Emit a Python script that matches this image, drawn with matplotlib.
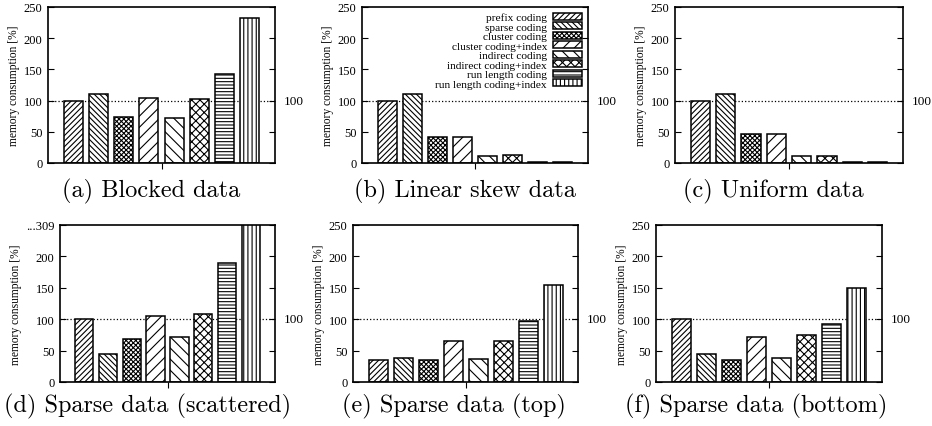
import matplotlib
matplotlib.use("Agg")
import matplotlib.pyplot as plt
import matplotlib.transforms as mtransforms

plt.rcParams['font.family'] = ['Liberation Serif', 'DejaVu Serif']
plt.rcParams['hatch.linewidth'] = 0.8

# coding schemes (legend order)
schemes = ['prefix coding', 'sparse coding', 'cluster coding', 'cluster coding+index',
           'indirect coding', 'indirect coding+index', 'run length coding',
           'run length coding+index']
hatches = ['//////', '\\\\\\\\\\\\', 'xxxxxxx', '///', '\\\\\\', 'xxxx', '-----', '||||']

# memory consumption [%] per data set
blocked = [100, 110, 73, 104, 72, 102, 143, 232]
linear_skew = [100, 110, 42, 42, 12, 13, 1, 1]
uniform = [100, 110, 47, 47, 12, 12, 1, 1]
scattered = [100, 44, 68, 105, 72, 108, 189, 309]
sparse_top = [35, 38, 35, 66, 36, 66, 97, 155]
sparse_bottom = [100, 44, 35, 71, 38, 75, 92, 150]

captions = ['(a) Blocked data', '(b) Linear skew data', '(c) Uniform data',
            '(d) Sparse data (scattered)', '(e) Sparse data (top)',
            '(f) Sparse data (bottom)']
yticks = [0, 50, 100, 150, 200, 250]

W, H = 932, 427
fig = plt.figure(figsize=(W / 100, H / 100), dpi=100)

# axes boxes in pixels: left, top, right, bottom
boxes = [(48, 8, 275, 164), (362, 8, 588, 164), (675, 8, 903, 164),
         (60, 226, 275, 383), (353, 226, 578, 383), (656, 226, 882, 383)]
caption_pos = [(151, 191), (465, 191), (773, 191), (148, 406), (454, 406), (756, 406)]
datasets = [blocked, linear_skew, uniform, scattered, sparse_top, sparse_bottom]

for i, (data, box) in enumerate(zip(datasets, boxes)):
    l, t, r, b = box
    ax = fig.add_axes([l / W, 1 - b / H, (r - l) / W, (b - t) / H])
    x = list(range(len(data)))
    bars = ax.bar(x, data, width=0.76, color='white', edgecolor='black',
                  linewidth=1.1, zorder=2)
    for bar, h in zip(bars, hatches):
        bar.set_hatch(h)
    ax.axhline(100, color='black', linestyle=':', linewidth=0.9, zorder=1)
    ax.set_xlim(-1, 8)
    ax.set_ylim(0, 250)
    ax.set_yticks(yticks)
    if i == 3:
        ax.set_yticklabels(['0', '50', '100', '150', '200', '...309'])
    ax.set_xticks([3.5])
    ax.set_xticklabels([''])
    ax.tick_params(axis='x', direction='out', length=4, width=0.8)
    ax.tick_params(axis='y', direction='in', length=4, width=0.8, right=True,
                   labelsize=9, pad=4)
    for s in ax.spines.values():
        s.set_linewidth(1.2)
    ax.set_ylabel('memory consumption [%]', fontsize=8.3, labelpad=3)
    trans = mtransforms.blended_transform_factory(ax.transAxes, ax.transData)
    ax.text(1.04, 100, '100', transform=trans, fontsize=9.5, va='center', ha='left')

    if i == 1:
        ax.legend(bars, schemes, loc='upper right', frameon=False, markerfirst=False,
                  fontsize=8.2, labelspacing=0.0, handlelength=2.6, handleheight=0.55,
                  handletextpad=0.5, borderaxespad=0.3, borderpad=0.2)

    cx, cy = caption_pos[i]
    fig.text(cx / W, 1 - cy / H, captions[i], family='cmr10', fontsize=17.5,
             ha='center', va='center')

fig.savefig('out.png', dpi=100)
